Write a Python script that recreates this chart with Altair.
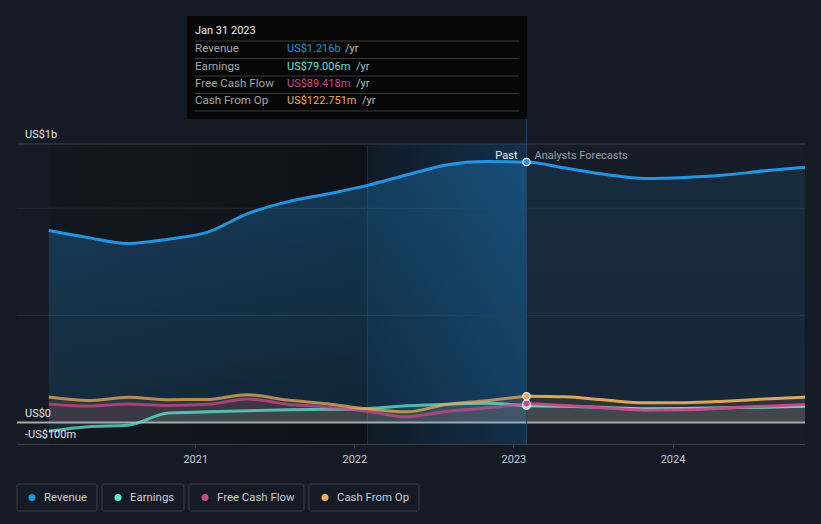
import altair as alt
import pandas as pd

# ---------------- data ----------------
dates = ["2020-01-31", "2020-04-30", "2020-07-31", "2020-10-31",
         "2021-01-31", "2021-04-30", "2021-07-31", "2021-10-31",
         "2022-01-31", "2022-04-30", "2022-07-31", "2022-10-31",
         "2023-01-31", "2023-04-30", "2023-07-31", "2023-10-31",
         "2024-01-31", "2024-04-30", "2024-07-31", "2024-10-31"]
revenue = [896, 863, 836, 856, 890, 974, 1030, 1067, 1107, 1155, 1202, 1218,
           1216, 1188, 1158, 1139, 1144, 1155, 1175, 1192]
earnings = [-40, -19, -12, 45, 50, 55, 60, 62, 65, 78, 86, 90,
            79, 76, 70, 65, 66, 69, 72, 76]
free_cash_flow = [87, 77, 87, 80, 85, 110, 86, 72, 53, 27, 52, 68,
                  89, 80, 68, 58, 60, 68, 76, 84]
cash_from_op = [119, 103, 118, 107, 108, 130, 105, 88, 64, 50, 84, 102,
                123, 120, 105, 92, 93, 100, 110, 119]

series_names = ["Revenue", "Earnings", "Free Cash Flow", "Cash From Op"]
series_colors = ["#2394df", "#62e4d0", "#c9488a", "#e8ac5c"]
tooltip_title = "Jan 31 2023"
tooltip_values = ["US$1.216b", "US$79.006m", "US$89.418m", "US$122.751m"]
year_ticks = [2021, 2022, 2023, 2024]
y_label_text = ["US$1b", "US$0", "-US$100m"]
y_label_vals = [1300, 0, -100]
grid_vals = [1300, 1000, 500]
highlight_start = "2022-01-31"
past_end = "2023-01-31"
data_start = "2020-01-31"
data_end = "2024-10-31"

# ---------------- layout (pixels, styles) ----------------
W, H = 788, 300
FONT = "Roboto"
BG = "#151b24"
legend_box_x = [0, 85, 172, 292]
legend_box_x2 = [80, 167, 287, 402]
legend_dot_x = [15, 101, 188, 308]
legend_text_x = [27, 113, 200, 320]
tip_row_y = [-95, -77, -60, -43]
tip_yr_x = [328, 339, 339, 345]
tip_sep_y = [-103, -85.5, -68, -50.5, -33]

# ---------------- tables ----------------
series_lists = [revenue, earnings, free_cash_flow, cash_from_op]
long = pd.DataFrame([
    {"date": d, "value": v, "series": s}
    for s, vals in zip(series_names, series_lists)
    for d, v in zip(dates, vals)
])
long["past"] = long["date"] <= past_end
long["fc"] = long["date"] >= past_end

xscale = alt.Scale(
    type="utc",
    domain=[alt.DateTime(year=2019, month=11, date=19, utc=True),
            alt.DateTime(year=2024, month=10, date=31, utc=True)],
)
yscale = alt.Scale(domain=[-100, 1300], nice=False, zero=False)
xaxis = alt.Axis(
    values=[alt.DateTime(year=y, month=1, date=1, utc=True) for y in year_ticks],
    format="%Y", labelColor="#c8ccd2", labelFontSize=11, labelFont=FONT,
    domainColor="#3c4149", tickColor="#3c4149", tickSize=4, grid=False,
    title=None, labelPadding=5,
)

def X(field="date"):
    return alt.X(f"{field}:T", scale=xscale, axis=xaxis)

def Y(field="value"):
    return alt.Y(f"{field}:Q", scale=yscale, axis=None)

cmap = alt.Scale(domain=series_names, range=series_colors)

# backgrounds
bg_df = pd.DataFrame({"start": [data_start], "end": [highlight_start]})
past_bg = alt.Chart(bg_df).mark_rect(
    color=alt.Gradient(gradient="linear",
                       stops=[alt.GradientStop(color="#131820", offset=0),
                              alt.GradientStop(color="#0e1218", offset=1)],
                       x1=0, x2=1, y1=0, y2=0)
).encode(x=X("start"), x2="end:T", y=alt.value(0), y2=alt.value(H))

hl_df = pd.DataFrame({"start": [highlight_start], "end": [past_end]})
hl_bg = alt.Chart(hl_df).mark_rect(
    color=alt.Gradient(gradient="linear",
                       stops=[alt.GradientStop(color="#0f1a26", offset=0),
                              alt.GradientStop(color="#12304b", offset=1)],
                       x1=0, x2=1, y1=0, y2=0)
).encode(x=X("start"), x2="end:T", y=alt.value(0), y2=alt.value(H))

fc_df = pd.DataFrame({"start": [past_end], "end": [data_end]})
fc_bg = alt.Chart(fc_df).mark_rect(color="#161d28").encode(
    x=X("start"), x2="end:T", y=alt.value(0), y2=alt.value(H))

# gridlines
grid_df = pd.DataFrame({"v": grid_vals, "c": ["#3c4149", "#262c35", "#262c35"]})
grid = alt.Chart(grid_df).mark_rule(strokeWidth=1).encode(
    y=Y("v"), x=alt.value(0), x2=alt.value(W),
    color=alt.Color("c:N", scale=None))

# vertical edges
edge_df = pd.DataFrame({"d": [highlight_start]})
edge_left = alt.Chart(edge_df).mark_rule(color="#1a3148", strokeWidth=1).encode(
    x=X("d"), y=alt.value(0), y2=alt.value(H))
edge_df2 = pd.DataFrame({"d": [past_end]})
edge_right = alt.Chart(edge_df2).mark_rule(color="#1f4668", strokeWidth=1).encode(
    x=X("d"), y=alt.value(-25), y2=alt.value(H))

rev = long[long.series == "Revenue"]
others = long[long.series != "Revenue"]

rev_area_past = alt.Chart(rev[rev.past]).mark_area(
    interpolate="monotone",
    color=alt.Gradient(gradient="linear",
                       stops=[alt.GradientStop(color="rgba(35,148,223,0.30)", offset=0),
                              alt.GradientStop(color="rgba(35,148,223,0.14)", offset=1)],
                       x1=1, x2=1, y1=0, y2=1)
).encode(x=X(), y=Y(), y2=alt.datum(0))

rev_area_fc = alt.Chart(rev[rev.fc]).mark_area(
    interpolate="monotone",
    color=alt.Gradient(gradient="linear",
                       stops=[alt.GradientStop(color="rgba(35,148,223,0.12)", offset=0),
                              alt.GradientStop(color="rgba(35,148,223,0.08)", offset=1)],
                       x1=1, x2=1, y1=0, y2=1)
).encode(x=X(), y=Y(), y2=alt.datum(0))

other_areas = alt.Chart(others).mark_area(interpolate="monotone", opacity=0.10).encode(
    x=X(), y=Y(), y2=alt.datum(0),
    color=alt.Color("series:N", scale=cmap, legend=None),
    detail="series:N")

zero = alt.Chart(pd.DataFrame({"v": [0]})).mark_rule(color="#a3a8af", strokeWidth=2).encode(
    y=Y("v"), x=alt.value(0), x2=alt.value(W))

other_lines_past = alt.Chart(others[others.past]).mark_line(
    interpolate="monotone", strokeWidth=3, opacity=0.75).encode(
    x=X(), y=Y(), color=alt.Color("series:N", scale=cmap, legend=None),
    detail="series:N")
other_lines_fc = alt.Chart(others[others.fc]).mark_line(
    interpolate="monotone", strokeWidth=3, opacity=0.95).encode(
    x=X(), y=Y(), color=alt.Color("series:N", scale=cmap, legend=None),
    detail="series:N")

rev_line = alt.Chart(rev).mark_line(interpolate="monotone", strokeWidth=3,
                                    color=series_colors[0]).encode(x=X(), y=Y())

pts = alt.Chart(long[long.date == past_end]).mark_point(
    filled=True, size=55, stroke="#e6edf3", strokeWidth=1.2, opacity=1).encode(
    x=X(), y=Y(), fill=alt.Color("series:N", scale=cmap, legend=None))

# y labels
ylab_df = pd.DataFrame({"v": y_label_vals, "t": y_label_text})
ylabels = alt.Chart(ylab_df).mark_text(
    align="left", baseline="bottom", dy=-4, fontSize=11, font=FONT, color="#e2e5e9"
).encode(y=Y("v"), x=alt.value(8), text="t:N")

# past / forecast labels
pl_df = pd.DataFrame({"d": [past_end]})
past_lbl = alt.Chart(pl_df).mark_text(
    align="right", baseline="middle", dx=-9, fontSize=11, font=FONT, color="#eceff2"
).encode(x=X("d"), y=alt.value(12), text=alt.value("Past"))
fc_lbl = alt.Chart(pl_df).mark_text(
    align="left", baseline="middle", dx=8, fontSize=11, font=FONT, color="#9a9fa6"
).encode(x=X("d"), y=alt.value(12), text=alt.value("Analysts Forecasts"))

# tooltip box
tip_box = alt.Chart(pd.DataFrame({"a": [0]})).mark_rect(color="#070707").encode(
    x=alt.value(170), x2=alt.value(510), y=alt.value(-128), y2=alt.value(-25))
tip_title = alt.Chart(pd.DataFrame({"t": [tooltip_title]})).mark_text(
    align="left", baseline="middle", fontSize=11, font=FONT, color="#f2f2f2"
).encode(x=alt.value(178), y=alt.value(-113), text="t:N")
tip_sep_layers = [
    alt.Chart(pd.DataFrame({"a": [0]})).mark_rule(color="#3a3a3a", strokeWidth=1).encode(
        x=alt.value(178), x2=alt.value(502), y=alt.value(sy))
    for sy in tip_sep_y
]
tip_df = pd.DataFrame({"label": series_names, "val": tooltip_values,
                       "color": series_colors, "ry": tip_row_y, "yx": tip_yr_x})
tip_labels = alt.Chart(tip_df).mark_text(
    align="left", baseline="middle", fontSize=11.6, font=FONT, color="#a3a6aa"
).encode(x=alt.value(178), y=alt.Y("ry:Q", scale=None), text="label:N")
tip_vals = alt.Chart(tip_df).mark_text(
    align="left", baseline="middle", fontSize=11, font=FONT
).encode(x=alt.value(270), y=alt.Y("ry:Q", scale=None), text="val:N",
         color=alt.Color("color:N", scale=None))
tip_yr = alt.Chart(tip_df).mark_text(
    align="left", baseline="middle", fontSize=11, font=FONT, color="#b9bcc0"
).encode(x=alt.X("yx:Q", scale=None), y=alt.Y("ry:Q", scale=None), text=alt.value("/yr"))

# legend
leg_df = pd.DataFrame({"name": series_names, "color": series_colors,
                       "bx": legend_box_x, "bx2": legend_box_x2,
                       "dx": legend_dot_x, "tx": legend_text_x})
leg_boxes = alt.Chart(leg_df).mark_rect(
    fill=BG, stroke="#3a3f48", strokeWidth=1, cornerRadius=2).encode(
    x=alt.X("bx:Q", scale=None), x2="bx2:Q", y=alt.value(340), y2=alt.value(367))
leg_dots = alt.Chart(leg_df).mark_circle(size=50, opacity=1).encode(
    x=alt.X("dx:Q", scale=None), y=alt.value(353.5),
    color=alt.Color("color:N", scale=None))
leg_text = alt.Chart(leg_df).mark_text(
    align="left", baseline="middle", fontSize=11.4, font=FONT, color="#c9cdd3").encode(
    x=alt.X("tx:Q", scale=None), y=alt.value(353.5), text="name:N")

layers = [past_bg, hl_bg, fc_bg, grid, edge_left, rev_area_past, rev_area_fc,
          other_areas, zero, other_lines_past, other_lines_fc, rev_line,
          edge_right, pts, ylabels, past_lbl, fc_lbl, tip_box, tip_title]
layers += tip_sep_layers
layers += [tip_labels, tip_vals, tip_yr, leg_boxes, leg_dots, leg_text]

chart = alt.layer(*layers).resolve_scale(color="independent").properties(
    width=W, height=H,
    padding={"left": 9, "top": 136, "right": 0, "bottom": 70},
    autosize="none",
).configure(background=BG).configure_view(stroke=None)

chart.save("out.html", embed_options={"renderer": "svg", "actions": False,
                                      "defaultStyle": "body{background:#151b24;}"})
